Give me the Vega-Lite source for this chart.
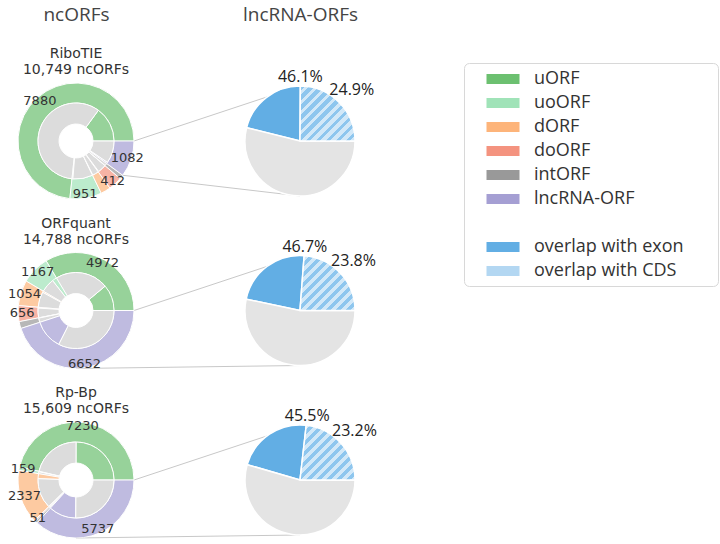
{
  "$schema": "https://vega.github.io/schema/vega-lite/v6.json",
  "width": 720,
  "height": 510,
  "autosize": "none",
  "padding": {"top": 34, "left": 0, "right": 0, "bottom": 0},
  "background": "white",
  "config": {
    "view": {"stroke": null},
    "axisX": {"domain": false, "ticks": false, "grid": false, "labelAngle": 0, "labelFontSize": 19, "labelFont": "Open Sans", "labelColor": "#444444", "labelPadding": 10}
  },
  "datasets": {
    "outer": [
      {"method": "RiboTIE", "cat": "uORF", "n": 7880, "show": true},
      {"method": "RiboTIE", "cat": "uoORF", "n": 951, "show": true},
      {"method": "RiboTIE", "cat": "dORF", "n": 300, "show": false},
      {"method": "RiboTIE", "cat": "doORF", "n": 412, "show": true},
      {"method": "RiboTIE", "cat": "intORF", "n": 124, "show": false},
      {"method": "RiboTIE", "cat": "lncRNA-ORF", "n": 1082, "show": true},
      {"method": "ORFquant", "cat": "uORF", "n": 4972, "show": true},
      {"method": "ORFquant", "cat": "uoORF", "n": 1167, "show": true},
      {"method": "ORFquant", "cat": "dORF", "n": 1054, "show": true},
      {"method": "ORFquant", "cat": "doORF", "n": 656, "show": true},
      {"method": "ORFquant", "cat": "intORF", "n": 287, "show": false},
      {"method": "ORFquant", "cat": "lncRNA-ORF", "n": 6652, "show": true},
      {"method": "Rp-Bp", "cat": "uORF", "n": 7230, "show": true},
      {"method": "Rp-Bp", "cat": "uoORF", "n": 159, "show": true},
      {"method": "Rp-Bp", "cat": "dORF", "n": 2337, "show": true},
      {"method": "Rp-Bp", "cat": "doORF", "n": 51, "show": true},
      {"method": "Rp-Bp", "cat": "intORF", "n": 95, "show": false},
      {"method": "Rp-Bp", "cat": "lncRNA-ORF", "n": 5737, "show": true}
    ],
    "inner": [
      {"method": "RiboTIE", "cat": "uORF", "part": "hit", "n": 1610},
      {"method": "RiboTIE", "cat": "uORF", "part": "rest", "n": 6270},
      {"method": "RiboTIE", "cat": "uoORF", "part": "hit", "n": 40},
      {"method": "RiboTIE", "cat": "uoORF", "part": "rest", "n": 911},
      {"method": "RiboTIE", "cat": "dORF", "part": "hit", "n": 15},
      {"method": "RiboTIE", "cat": "dORF", "part": "rest", "n": 285},
      {"method": "RiboTIE", "cat": "doORF", "part": "hit", "n": 25},
      {"method": "RiboTIE", "cat": "doORF", "part": "rest", "n": 387},
      {"method": "RiboTIE", "cat": "intORF", "part": "hit", "n": 10},
      {"method": "RiboTIE", "cat": "intORF", "part": "rest", "n": 114},
      {"method": "RiboTIE", "cat": "lncRNA-ORF", "part": "hit", "n": 60},
      {"method": "RiboTIE", "cat": "lncRNA-ORF", "part": "rest", "n": 1022},
      {"method": "ORFquant", "cat": "uORF", "part": "hit", "n": 1640},
      {"method": "ORFquant", "cat": "uORF", "part": "rest", "n": 3332},
      {"method": "ORFquant", "cat": "uoORF", "part": "hit", "n": 290},
      {"method": "ORFquant", "cat": "uoORF", "part": "rest", "n": 877},
      {"method": "ORFquant", "cat": "dORF", "part": "hit", "n": 80},
      {"method": "ORFquant", "cat": "dORF", "part": "rest", "n": 974},
      {"method": "ORFquant", "cat": "doORF", "part": "hit", "n": 50},
      {"method": "ORFquant", "cat": "doORF", "part": "rest", "n": 606},
      {"method": "ORFquant", "cat": "intORF", "part": "hit", "n": 20},
      {"method": "ORFquant", "cat": "intORF", "part": "rest", "n": 267},
      {"method": "ORFquant", "cat": "lncRNA-ORF", "part": "hit", "n": 1850},
      {"method": "ORFquant", "cat": "lncRNA-ORF", "part": "rest", "n": 4802},
      {"method": "Rp-Bp", "cat": "uORF", "part": "hit", "n": 3900},
      {"method": "Rp-Bp", "cat": "uORF", "part": "rest", "n": 3330},
      {"method": "Rp-Bp", "cat": "uoORF", "part": "hit", "n": 30},
      {"method": "Rp-Bp", "cat": "uoORF", "part": "rest", "n": 129},
      {"method": "Rp-Bp", "cat": "dORF", "part": "hit", "n": 330},
      {"method": "Rp-Bp", "cat": "dORF", "part": "rest", "n": 2007},
      {"method": "Rp-Bp", "cat": "doORF", "part": "hit", "n": 10},
      {"method": "Rp-Bp", "cat": "doORF", "part": "rest", "n": 41},
      {"method": "Rp-Bp", "cat": "intORF", "part": "hit", "n": 20},
      {"method": "Rp-Bp", "cat": "intORF", "part": "rest", "n": 75},
      {"method": "Rp-Bp", "cat": "lncRNA-ORF", "part": "hit", "n": 1820},
      {"method": "Rp-Bp", "cat": "lncRNA-ORF", "part": "rest", "n": 3917}
    ],
    "pie": [
      {"method": "RiboTIE", "part": "overlap with CDS", "share": 24.9, "lab": "24.9%"},
      {"method": "RiboTIE", "part": "overlap with exon", "share": 21.2, "lab": "46.1%"},
      {"method": "RiboTIE", "part": "none", "share": 53.9, "lab": ""},
      {"method": "ORFquant", "part": "overlap with CDS", "share": 23.8, "lab": "23.8%"},
      {"method": "ORFquant", "part": "overlap with exon", "share": 22.9, "lab": "46.7%"},
      {"method": "ORFquant", "part": "none", "share": 53.3, "lab": ""},
      {"method": "Rp-Bp", "part": "overlap with CDS", "share": 23.2, "lab": "23.2%"},
      {"method": "Rp-Bp", "part": "overlap with exon", "share": 22.3, "lab": "45.5%"},
      {"method": "Rp-Bp", "part": "none", "share": 54.5, "lab": ""}
    ]
  },
  "layer": [
    {
      "data": {"name": "outer"},
      "transform": [
        {"stack": "n", "groupby": ["method"], "offset": "normalize", "as": ["s0", "s1"]},
        {"filter": "datum.cat === 'lncRNA-ORF'"},
        {"calculate": "[max(datum.s0, 0.75), datum.s1]", "as": "fr"},
        {"calculate": "['lo', 'hi']", "as": "lk"},
        {"flatten": ["fr", "lk"]},
        {"calculate": "['ncORFs', 'lncRNA-ORFs']", "as": "end"},
        {"flatten": ["end"]},
        {"calculate": "datum.end === 'ncORFs' ? 58 * cos(2 * PI * datum.fr) : 0", "as": "ox"},
        {"calculate": "datum.end === 'ncORFs' ? -58 * sin(2 * PI * datum.fr) : (datum.lk === 'hi' ? -55 : 55)", "as": "oy"}
      ],
      "mark": {"type": "line", "stroke": "#c8c8c8", "strokeWidth": 1},
      "encoding": {
        "x": {"field": "end", "type": "nominal", "scale": {"type": "point", "domain": ["ncORFs", "lncRNA-ORFs"], "range": [76, 300], "padding": 0}, "axis": {"orient": "top", "title": null}},
        "y": {"field": "method", "type": "nominal", "scale": {"type": "point", "domain": ["RiboTIE", "ORFquant", "Rp-Bp"], "range": [107, 446], "padding": 0}, "axis": null},
        "xOffset": {"field": "ox", "type": "quantitative", "scale": null},
        "yOffset": {"field": "oy", "type": "quantitative", "scale": null},
        "detail": [{"field": "method", "type": "nominal"}, {"field": "lk", "type": "nominal"}]
      }
    },
    {
      "data": {"name": "outer"},
      "transform": [
        {"stack": "n", "groupby": ["method"], "offset": "normalize", "as": ["s0", "s1"]}
      ],
      "mark": {"type": "arc", "radius": 58, "radius2": 38, "stroke": "white", "strokeWidth": 1, "opacity": 0.7},
      "encoding": {
        "x": {"datum": "ncORFs", "type": "nominal", "axis": {"orient": "top", "title": null}},
        "y": {"field": "method", "type": "nominal", "axis": null},
        "theta": {"field": "s0", "type": "quantitative", "scale": {"domain": [0, 1], "range": [1.5708, -4.7124]}, "stack": null},
        "theta2": {"field": "s1"},
        "color": {
          "field": "cat",
          "type": "nominal",
          "scale": {
            "domain": ["uORF", "uoORF", "dORF", "doORF", "intORF", "lncRNA-ORF", " ", "overlap with exon", "overlap with CDS"],
            "range": ["#6cc070", "#a0e3b8", "#fdb47a", "#f4937f", "#999999", "#a59fd3", "rgba(255,255,255,0)", "#62aee4", "#b3d7f2"]
          },
          "legend": {
            "title": null,
            "orient": "none",
            "legendX": 464,
            "legendY": 29,
            "direction": "vertical",
            "padding": 6,
            "strokeColor": "#d8d8d8",
            "fillColor": "white",
            "cornerRadius": 5,
            "labelFont": "Open Sans",
            "labelFontSize": 18,
            "labelColor": "#333333",
            "labelLimit": 400,
            "labelExpr": "datum.label === ' ' ? '' : datum.label + '\u00a0\u00a0\u00a0\u00a0\u00a0\u00a0\u200b'",
            "symbolType": "M-1.65,-0.5H1.65V0.5H-1.65Z",
            "symbolSize": 400,
            "symbolStrokeWidth": 0,
            "symbolOpacity": 1,
            "symbolOffset": 23,
            "labelOffset": 21,
            "rowPadding": 5,
            "encode": {
              "symbols": {
                "update": {
                  "shape": {"signal": "datum.value === 'overlap with CDS' ? 'M-1.65,0.5L-1.35,0.5L-0.85,-0.5L-1.15,-0.5Z M-1.0,0.5L-0.7,0.5L-0.2,-0.5L-0.5,-0.5Z M-0.35,0.5L-0.05,0.5L0.45,-0.5L0.15,-0.5Z M0.3,0.5L0.6,0.5L1.1,-0.5L0.8,-0.5Z M0.95,0.5L1.25,0.5L1.65,-0.3L1.65,-0.5L1.45,-0.5Z' : 'M-1.65,-0.5H1.65V0.5H-1.65Z'"}
                }
              }
            }
          }
        }
      }
    },
    {
      "data": {"name": "inner"},
      "transform": [
        {"stack": "n", "groupby": ["method"], "offset": "normalize", "as": ["s0", "s1"]}
      ],
      "mark": {"type": "arc", "radius": 38, "radius2": 17, "stroke": "white", "strokeWidth": 1},
      "encoding": {
        "x": {"datum": "ncORFs", "type": "nominal", "axis": {"orient": "top", "title": null}},
        "y": {"field": "method", "type": "nominal", "axis": null},
        "theta": {"field": "s0", "type": "quantitative", "stack": null},
        "theta2": {"field": "s1"},
        "color": {"condition": {"test": "datum.part === 'rest'", "value": "#dcdcdc"}, "field": "cat", "type": "nominal"},
        "opacity": {"condition": {"test": "datum.part === 'rest'", "value": 1}, "value": 0.7}
      }
    },
    {
      "data": {"name": "pie"},
      "transform": [
        {"stack": "share", "groupby": ["method"], "offset": "normalize", "as": ["s0", "s1"]}
      ],
      "mark": {"type": "arc", "radius": 55, "stroke": "white", "strokeWidth": 1.5},
      "encoding": {
        "x": {"datum": "lncRNA-ORFs", "type": "nominal", "axis": {"orient": "top", "title": null}},
        "y": {"field": "method", "type": "nominal", "axis": null},
        "theta": {"field": "s0", "type": "quantitative", "stack": null},
        "theta2": {"field": "s1"},
        "color": {"condition": {"test": "datum.part === 'overlap with exon'", "value": "#62aee4"}, "value": "#e4e4e4"}
      }
    },
    {
      "data": {"name": "pie"},
      "transform": [
        {"stack": "share", "groupby": ["method"], "offset": "normalize", "as": ["s0", "s1"]},
        {"filter": "datum.part === 'overlap with CDS'"}
      ],
      "mark": {
        "type": "arc", "radius": 55, "stroke": "white", "strokeWidth": 1.5,
        "fill": {
          "gradient": "linear", "x1": 0, "y1": 0, "x2": 1, "y2": 1,
          "stops": [
            {"offset": 0, "color": "#8ec6ee"}, {"offset": 0.0455, "color": "#8ec6ee"}, {"offset": 0.0455, "color": "#d2e8f8"}, {"offset": 0.0909, "color": "#d2e8f8"},
            {"offset": 0.0909, "color": "#8ec6ee"}, {"offset": 0.1364, "color": "#8ec6ee"}, {"offset": 0.1364, "color": "#d2e8f8"}, {"offset": 0.1818, "color": "#d2e8f8"},
            {"offset": 0.1818, "color": "#8ec6ee"}, {"offset": 0.2273, "color": "#8ec6ee"}, {"offset": 0.2273, "color": "#d2e8f8"}, {"offset": 0.2727, "color": "#d2e8f8"},
            {"offset": 0.2727, "color": "#8ec6ee"}, {"offset": 0.3182, "color": "#8ec6ee"}, {"offset": 0.3182, "color": "#d2e8f8"}, {"offset": 0.3636, "color": "#d2e8f8"},
            {"offset": 0.3636, "color": "#8ec6ee"}, {"offset": 0.4091, "color": "#8ec6ee"}, {"offset": 0.4091, "color": "#d2e8f8"}, {"offset": 0.4545, "color": "#d2e8f8"},
            {"offset": 0.4545, "color": "#8ec6ee"}, {"offset": 0.5, "color": "#8ec6ee"}, {"offset": 0.5, "color": "#d2e8f8"}, {"offset": 0.5455, "color": "#d2e8f8"},
            {"offset": 0.5455, "color": "#8ec6ee"}, {"offset": 0.5909, "color": "#8ec6ee"}, {"offset": 0.5909, "color": "#d2e8f8"}, {"offset": 0.6364, "color": "#d2e8f8"},
            {"offset": 0.6364, "color": "#8ec6ee"}, {"offset": 0.6818, "color": "#8ec6ee"}, {"offset": 0.6818, "color": "#d2e8f8"}, {"offset": 0.7273, "color": "#d2e8f8"},
            {"offset": 0.7273, "color": "#8ec6ee"}, {"offset": 0.7727, "color": "#8ec6ee"}, {"offset": 0.7727, "color": "#d2e8f8"}, {"offset": 0.8182, "color": "#d2e8f8"},
            {"offset": 0.8182, "color": "#8ec6ee"}, {"offset": 0.8636, "color": "#8ec6ee"}, {"offset": 0.8636, "color": "#d2e8f8"}, {"offset": 0.9091, "color": "#d2e8f8"},
            {"offset": 0.9091, "color": "#8ec6ee"}, {"offset": 0.9545, "color": "#8ec6ee"}, {"offset": 0.9545, "color": "#d2e8f8"}, {"offset": 1, "color": "#d2e8f8"}
          ]
        }
      },
      "encoding": {
        "x": {"datum": "lncRNA-ORFs", "type": "nominal", "axis": {"orient": "top", "title": null}},
        "y": {"field": "method", "type": "nominal", "axis": null},
        "theta": {"field": "s0", "type": "quantitative", "stack": null},
        "theta2": {"field": "s1"}
      }
    },
    {
      "data": {"name": "outer"},
      "transform": [
        {"stack": "n", "groupby": ["method"], "offset": "normalize", "as": ["s0", "s1"]},
        {"filter": "datum.show"},
        {"calculate": "(datum.s0 + datum.s1) / 2", "as": "mid"}
      ],
      "mark": {"type": "text", "radius": 54, "font": "DejaVu Sans", "fontSize": 13, "color": "#333333", "align": "center", "baseline": "middle"},
      "encoding": {
        "x": {"datum": "ncORFs", "type": "nominal", "axis": {"orient": "top", "title": null}},
        "y": {"field": "method", "type": "nominal", "axis": null},
        "theta": {"field": "mid", "type": "quantitative"},
        "text": {"field": "n", "type": "quantitative", "format": "d"}
      }
    },
    {
      "data": {"name": "outer"},
      "transform": [
        {"aggregate": [{"op": "sum", "field": "n", "as": "total"}], "groupby": ["method"]},
        {"calculate": "datum.method + '\\n' + format(datum.total, ',') + ' ncORFs'", "as": "tt"}
      ],
      "mark": {"type": "text", "dy": -83, "baseline": "alphabetic", "align": "center", "lineBreak": "\n", "lineHeight": 16, "font": "DejaVu Sans", "fontSize": 14, "color": "#333333"},
      "encoding": {
        "x": {"datum": "ncORFs", "type": "nominal", "axis": {"orient": "top", "title": null}},
        "y": {"field": "method", "type": "nominal", "axis": null},
        "text": {"field": "tt", "type": "nominal"}
      }
    },
    {
      "data": {"name": "pie"},
      "transform": [
        {"stack": "share", "groupby": ["method"], "offset": "normalize", "as": ["s0", "s1"]},
        {"filter": "datum.part === 'overlap with CDS'"},
        {"calculate": "(datum.s0 + datum.s1) / 2", "as": "mid"}
      ],
      "mark": {"type": "text", "radius": 73, "font": "Open Sans", "fontSize": 16, "color": "#222222", "align": "center", "baseline": "middle"},
      "encoding": {
        "x": {"datum": "lncRNA-ORFs", "type": "nominal", "axis": {"orient": "top", "title": null}},
        "y": {"field": "method", "type": "nominal", "axis": null},
        "theta": {"field": "mid", "type": "quantitative"},
        "text": {"field": "lab", "type": "nominal"}
      }
    },
    {
      "data": {"name": "pie"},
      "transform": [
        {"stack": "share", "groupby": ["method"], "offset": "normalize", "as": ["s0", "s1"]},
        {"filter": "datum.part === 'overlap with exon'"}
      ],
      "mark": {"type": "text", "radius": 64, "font": "Open Sans", "fontSize": 16, "color": "#222222", "align": "center", "baseline": "middle"},
      "encoding": {
        "x": {"datum": "lncRNA-ORFs", "type": "nominal", "axis": {"orient": "top", "title": null}},
        "y": {"field": "method", "type": "nominal", "axis": null},
        "theta": {"field": "s0", "type": "quantitative"},
        "text": {"field": "lab", "type": "nominal"}
      }
    }
  ]
}
